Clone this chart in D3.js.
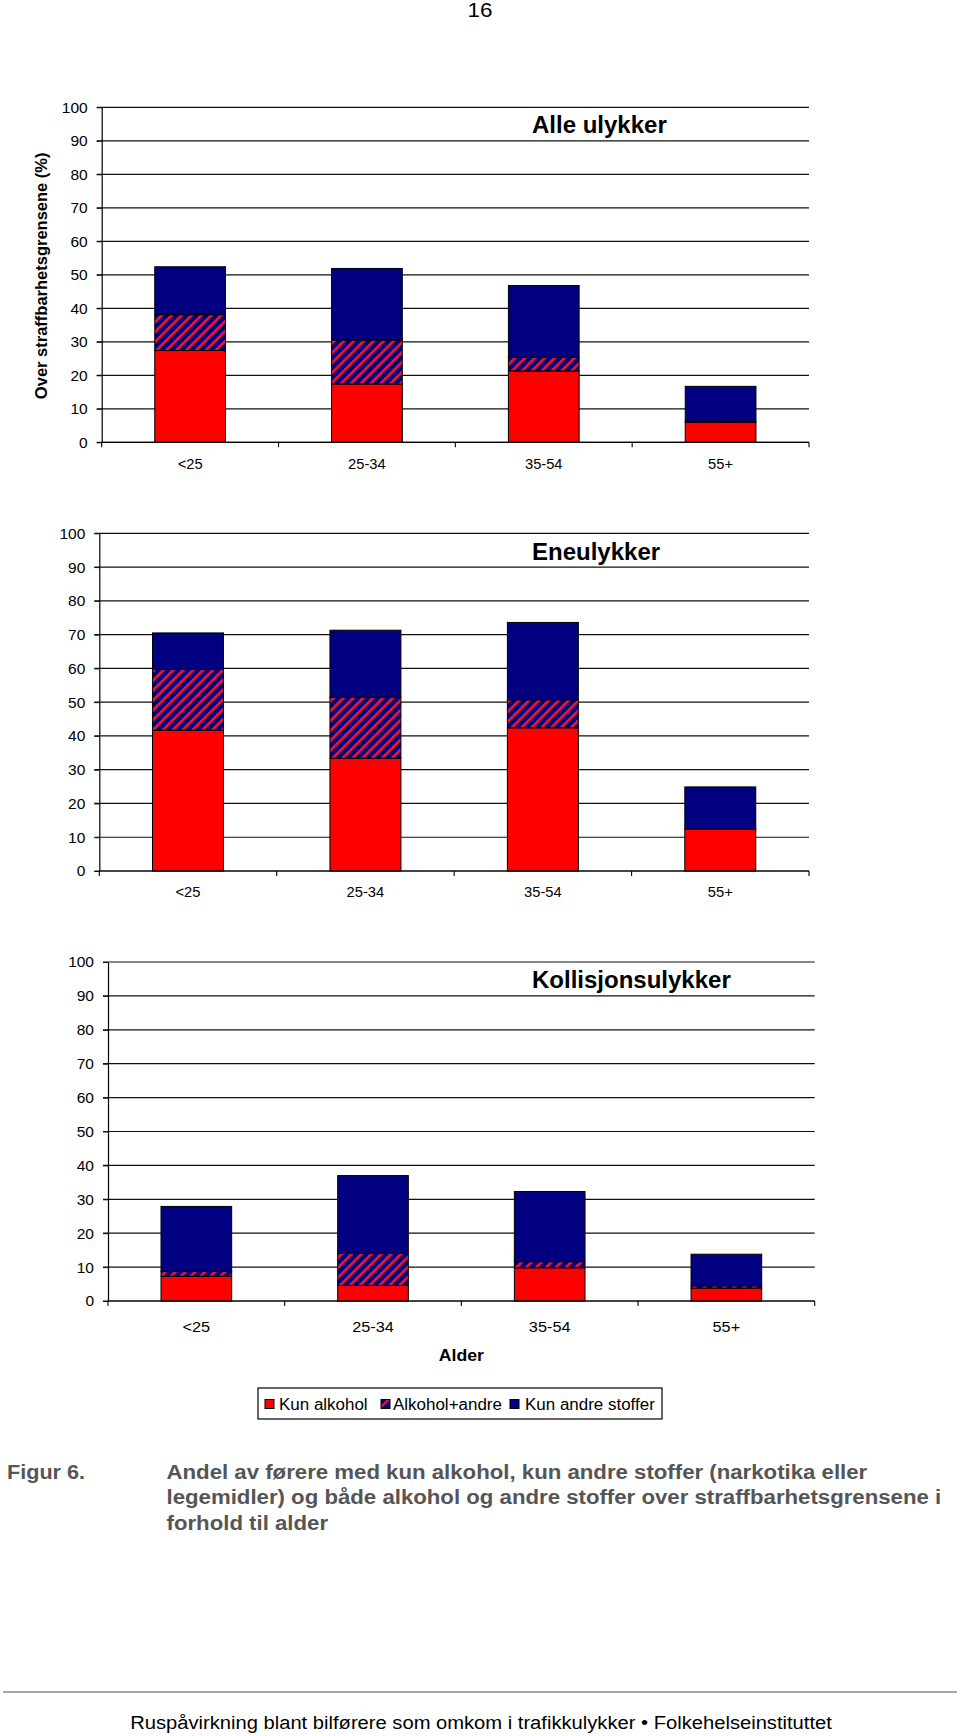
<!DOCTYPE html>
<html>
<head>
<meta charset="utf-8">
<script src="https://cdn.jsdelivr.net/npm/d3@7"></script>
<style>
  html, body { margin: 0; padding: 0; background: #fff; }
  svg { display: block; font-family: "Liberation Sans", Arial, sans-serif; }
</style>
</head>
<body>
<svg id="chart" width="960" height="1736"></svg>
<script>
// ---------- data ----------
const categories = ["<25", "25-34", "35-54", "55+"];
const panelTitles = ["Alle ulykker", "Eneulykker", "Kollisjonsulykker"];
const seriesNames = ["Kun alkohol", "Alkohol+andre", "Kun andre stoffer"];
const yTicks = [0, 10, 20, 30, 40, 50, 60, 70, 80, 90, 100];

// one array per series, one row per panel
const kunAlkohol   = [[27.4, 17.4, 21.3, 6.0], [41.7, 33.4, 42.4, 12.4], [7.3, 4.6, 9.8, 3.8]];
const alkoholAndre = [[10.7, 13.1, 4.1, 0.3],  [18.0, 18.1, 8.3, 0.0],   [1.45, 9.5, 1.8, 0.7]];
const kunAndre     = [[14.3, 21.4, 21.4, 10.4], [10.8, 19.8, 22.9, 12.5], [19.15, 22.9, 20.7, 9.3]];

const yAxisTitle = "Over straffbarhetsgrensene (%)";
const xAxisTitle = "Alder";
const pageNumber = "16";
const captionLabel = "Figur 6.";
const captionLines = [
  "Andel av førere med kun alkohol, kun andre stoffer (narkotika eller",
  "legemidler) og både alkohol og andre stoffer over straffbarhetsgrensene i",
  "forhold til alder"
];
const footerText = "Ruspåvirkning blant bilførere som omkom i trafikkulykker  \u2022 Folkehelseinstituttet";

// ---------- layout ----------
const layouts = [
  { x0: 101.7, x1: 809,   yTop: 107.3, yBot: 442.3, xLabelDy: 26.4, xLabelSize: 14,   titleY: 133 },
  { x0: 99.3,  x1: 809,   yTop: 533.3, yBot: 871,   xLabelDy: 26.3, xLabelSize: 14,   titleY: 560 },
  { x0: 108,   x1: 814.7, yTop: 962,   yBot: 1301,  xLabelDy: 30.7, xLabelSize: 15.5, titleY: 988.3 }
];
const colors = ["#FF0000", "url(#hatch)", "#000080"];

// horizontally stretch text (reference glyphs are slightly wide)
function stretch(sel, f) {
  sel.each(function () {
    const w = this.getComputedTextLength();
    d3.select(this).attr("textLength", w * f).attr("lengthAdjust", "spacingAndGlyphs");
  });
  return sel;
}

const svg = d3.select("#chart");
const defs = svg.append("defs");
const pat = defs.append("pattern")
  .attr("id", "hatch").attr("patternUnits", "userSpaceOnUse")
  .attr("width", 7).attr("height", 7)
  .attr("patternTransform", "rotate(45)");
pat.append("rect").attr("width", 7).attr("height", 7).attr("fill", "#000080");
pat.append("rect").attr("width", 2.8).attr("height", 7).attr("fill", "#E8182E");

// page number
stretch(svg.append("text").attr("x", 480).attr("y", 17).attr("text-anchor", "middle")
  .attr("font-size", 20).attr("fill", "#000").text(pageNumber), 1.12);

panelTitles.forEach((title, p) => {
  const L = layouts[p];
  const g = svg.append("g");
  const x = d3.scaleBand().domain(categories).range([L.x0, L.x1])
    .paddingInner(0.6).paddingOuter(0.3);
  const y = d3.scaleLinear().domain([0, 100]).range([L.yBot, L.yTop]);

  // gridlines
  g.append("g").selectAll("line").data(yTicks).join("line")
    .attr("x1", L.x0 - 5).attr("x2", L.x1)
    .attr("y1", d => y(d)).attr("y2", d => y(d))
    .attr("stroke", "#111").attr("stroke-width", 1.2);

  // y axis
  const yAxis = g.append("g").attr("transform", `translate(${L.x0},0)`)
    .call(d3.axisLeft(y).tickValues(yTicks).tickSizeInner(5).tickSizeOuter(0).tickPadding(9));
  yAxis.select(".domain").attr("stroke", "#000").attr("stroke-width", 1.2);
  yAxis.selectAll(".tick line").attr("stroke", "#111");
  yAxis.selectAll(".tick text").attr("font-size", 15.5).attr("fill", "#000")
    .attr("font-family", "Liberation Sans, Arial, sans-serif");

  // stacked bars
  const rows = categories.map((c, i) => ({
    cat: c,
    "Kun alkohol": kunAlkohol[p][i],
    "Alkohol+andre": alkoholAndre[p][i],
    "Kun andre stoffer": kunAndre[p][i]
  }));
  const stacked = d3.stack().keys(seriesNames)(rows);
  stacked.forEach((layer, si) => {
    g.append("g").selectAll("rect").data(layer.filter(d => d[1] - d[0] > 0)).join("rect")
      .attr("x", d => x(d.data.cat))
      .attr("width", x.bandwidth())
      .attr("y", d => y(d[1]))
      .attr("height", d => y(d[0]) - y(d[1]))
      .attr("fill", colors[si])
      .attr("stroke", "#000").attr("stroke-width", 1);
  });

  // x axis line
  g.append("line").attr("x1", L.x0).attr("x2", L.x1)
    .attr("y1", L.yBot).attr("y2", L.yBot).attr("stroke", "#000").attr("stroke-width", 1.2);
  // boundary ticks
  const outer = (x.step() - x.bandwidth()) / 2;
  const bounds = categories.map(c => x(c) - outer).concat([x(categories[categories.length - 1]) + x.bandwidth() + outer]);
  g.append("g").selectAll("line").data(bounds).join("line")
    .attr("x1", d => d).attr("x2", d => d)
    .attr("y1", L.yBot).attr("y2", L.yBot + 5)
    .attr("stroke", "#000").attr("stroke-width", 1.1);
  // x labels
  stretch(g.append("g").selectAll("text").data(categories).join("text")
    .attr("x", d => x(d) + x.bandwidth() / 2)
    .attr("y", L.yBot + L.xLabelDy)
    .attr("text-anchor", "middle").attr("font-size", L.xLabelSize).attr("fill", "#000")
    .text(d => d), 1.05);

  // panel title
  g.append("text").attr("x", 532).attr("y", L.titleY)
    .attr("font-size", 24).attr("font-weight", "bold").attr("fill", "#000").text(title);

  if (p === 0) {
    svg.append("text")
      .attr("transform", `translate(47, ${(L.yTop + L.yBot) / 2 + 1}) rotate(-90)`)
      .attr("text-anchor", "middle").attr("font-size", 16.5).attr("font-weight", "bold")
      .attr("fill", "#000").text(yAxisTitle);
  }
  if (p === 2) {
    stretch(svg.append("text").attr("x", (L.x0 + L.x1) / 2).attr("y", 1361)
      .attr("text-anchor", "middle").attr("font-size", 16).attr("font-weight", "bold")
      .attr("fill", "#000").text(xAxisTitle), 1.1);
  }
});

// legend
const legend = svg.append("g");
legend.append("rect").attr("x", 258).attr("y", 1388).attr("width", 404).attr("height", 31)
  .attr("fill", "#fff").attr("stroke", "#000").attr("stroke-width", 1.2);
const legItems = [
  { name: seriesNames[0], fill: "#FF0000", sx: 265, tx: 279 },
  { name: seriesNames[1], fill: "#000080", sx: 381, tx: 393 },
  { name: seriesNames[2], fill: "#000080", sx: 510, tx: 525 }
];
legItems.forEach((it, i) => {
  legend.append("rect").attr("x", it.sx).attr("y", 1399.5).attr("width", 9).attr("height", 9)
    .attr("fill", it.fill);
  if (i === 1) {
    const sx = it.sx, sy = 1399.5;
    legend.append("path")
      .attr("d", `M${sx},${sy + 6} L${sx + 6},${sy} L${sx + 9},${sy} L${sx},${sy + 9} Z`)
      .attr("fill", "#E8182E");
  }
  legend.append("rect").attr("x", it.sx).attr("y", 1399.5).attr("width", 9).attr("height", 9)
    .attr("fill", "none").attr("stroke", "#000").attr("stroke-width", 1);
  stretch(legend.append("text").attr("x", it.tx).attr("y", 1409.5).attr("font-size", 16)
    .attr("fill", "#000").text(it.name), 1.06);
});

// caption
stretch(svg.append("text").attr("x", 7).attr("y", 1478.5).attr("font-size", 20).attr("font-weight", "bold")
  .attr("fill", "#555").text(captionLabel), 1.08);
captionLines.forEach((t, i) => {
  stretch(svg.append("text").attr("x", 166.5).attr("y", 1478.5 + i * 25.8)
    .attr("font-size", 20).attr("font-weight", "bold").attr("fill", "#555").text(t), 1.11);
});

// footer
svg.append("line").attr("x1", 3).attr("x2", 957).attr("y1", 1692).attr("y2", 1692)
  .attr("stroke", "#888").attr("stroke-width", 1.5);
stretch(svg.append("text").attr("x", 481).attr("y", 1729).attr("text-anchor", "middle")
  .attr("font-size", 18).attr("fill", "#000").text(footerText), 1.12);
</script>
</body>
</html>
